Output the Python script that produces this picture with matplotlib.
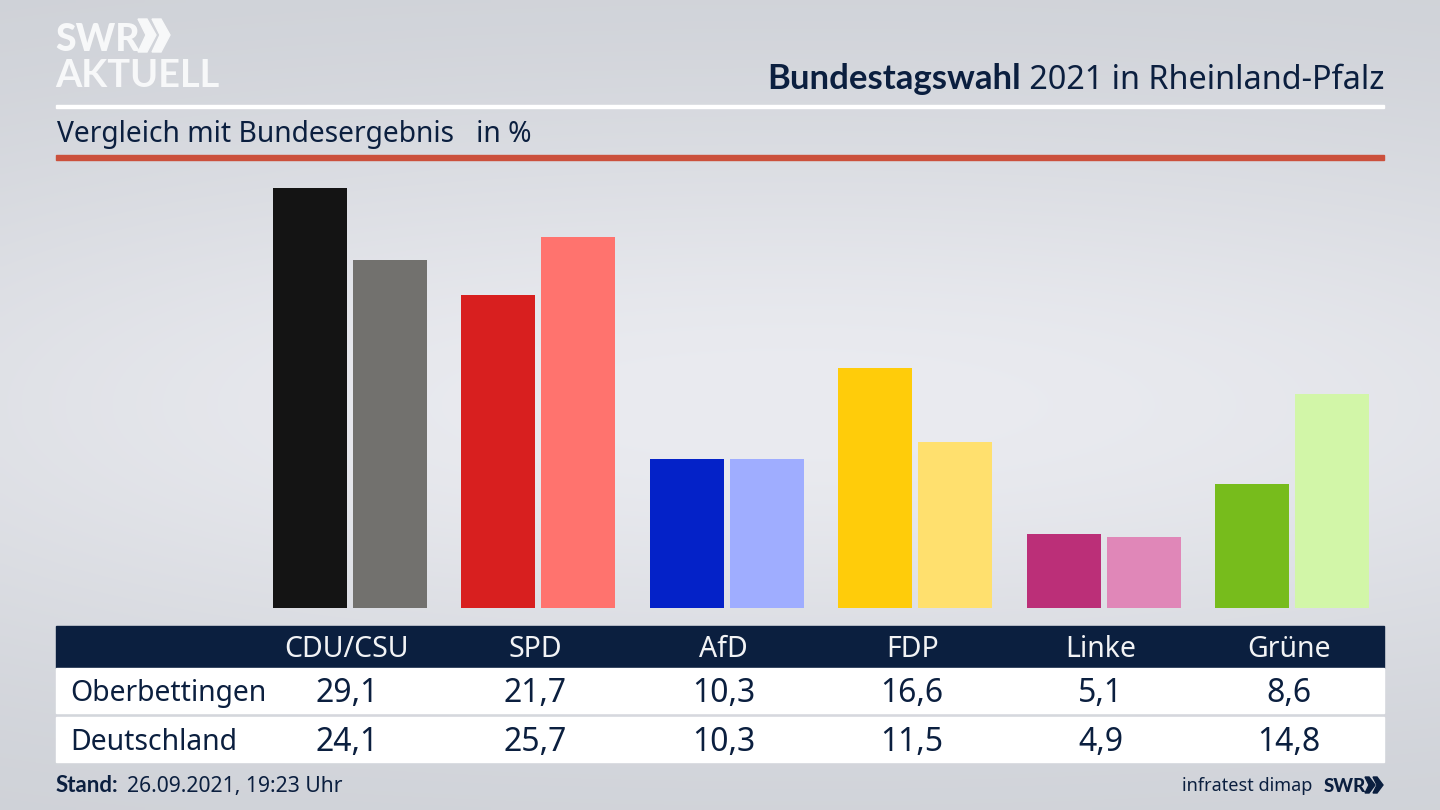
import numpy as np
import matplotlib
matplotlib.use('Agg')
import matplotlib.pyplot as plt
from matplotlib.patches import Rectangle, Polygon

plt.rcParams['font.family'] = ['Noto Sans', 'DejaVu Sans']

parties = ['CDU/CSU', 'SPD', 'AfD', 'FDP', 'Linke', 'Grüne']
oberbettingen = [29.1, 21.7, 10.3, 16.6, 5.1, 8.6]
deutschland = [24.1, 25.7, 10.3, 11.5, 4.9, 14.8]
row_names = ['Oberbettingen', 'Deutschland']
colors_local = ['#141414', '#d81f1f', '#0422c8', '#ffcc0a', '#bb2f78', '#77bc1c']
colors_nation = ['#72716e', '#ff736e', '#9fadff', '#ffe06e', '#e087b8', '#d2f6a8']

NAVY = '#0b1f3f'
LOGO = '#f7f8f9'
BOLD = 'Lato'
W, H = 1440, 810


def fmt(v):
    return f'{v:.1f}'.replace('.', ',')


fig = plt.figure(figsize=(14.4, 8.1), dpi=100)

# canvas in pixel coordinates, for background and text
bg = fig.add_axes([0, 0, 1, 1])
bg.set_xlim(0, W)
bg.set_ylim(H, 0)
bg.axis('off')

yy, xx = np.mgrid[0:1:162j, 0:1:288j]
glow = np.exp(-((yy - 0.5) / 0.36) ** 2) * (1 - 0.35 * ((xx - 0.55) / 0.55) ** 2)
shade = np.clip(glow, 0, 1)
top = np.array([0xcd, 0xd0, 0xd6]) / 255
mid = np.array([0xea, 0xeb, 0xf0]) / 255
img = top + (mid - top) * shade[..., None]
bg.imshow(img, extent=[0, W, H, 0], aspect='auto', interpolation='bilinear', zorder=0)

# logo
bg.text(55, 51, 'SWR', color=LOGO, fontsize=27, fontweight='black', va='baseline', ha='left', family=BOLD)
bg.text(55, 87, 'AKTUELL', color=LOGO, fontsize=27.3, fontweight='bold', va='baseline', ha='left', family=BOLD)
for x0 in (138, 152):
    bg.add_patch(Polygon([(x0, 19), (x0 + 9, 19), (x0 + 18, 35), (x0 + 9, 52), (x0, 52), (x0 + 8, 35)],
                         closed=True, color=LOGO, zorder=3))

# header
title = bg.text(1384, 89, ' 2021 in Rheinland-Pfalz', color=NAVY, fontsize=23.3, ha='right', va='baseline')
fig.canvas.draw()
box = title.get_window_extent()
bg.text(box.x0, 89, 'Bundestagswahl', color=NAVY, fontsize=25, fontweight='bold', ha='right', va='baseline', family=BOLD)
bg.add_patch(Rectangle((56, 104.5), 1328, 3, color='white', zorder=2))
bg.text(57, 142, 'Vergleich mit Bundesergebnis   in %', color=NAVY, fontsize=20.3, ha='left', va='baseline')
bg.add_patch(Rectangle((56, 155), 1328, 5, color='#cb503c', zorder=2))

# bars, y scale goes 188..608 px for 0..29.1
group_px = 188.4
first_px = 347.0
ax = fig.add_axes([0, (H - 608) / H, 1, 420 / H])
ax.patch.set_alpha(0)
ax.set_xlim(-first_px / group_px, (W - first_px) / group_px)
ax.set_ylim(0, 29.1)
ax.axis('off')
x = np.arange(len(parties))
bar_w = 74 / group_px
ax.bar(x - 37 / group_px, oberbettingen, bar_w, color=colors_local)
ax.bar(x + 43 / group_px, deutschland, bar_w, color=colors_nation)

# table
bg.add_patch(Rectangle((56, 626), 1328, 42, color=NAVY, zorder=2))
bg.add_patch(Rectangle((56, 668), 1328, 45, color='white', zorder=2))
bg.add_patch(Rectangle((56, 717), 1328, 45, color='white', zorder=2))
px = first_px + x * group_px
for p, name in zip(px, parties):
    bg.text(p, 657, name, color='#f2f3f5', fontsize=20.5, ha='center', va='baseline', zorder=3)
for y, name, vals in zip((701, 750), row_names, (oberbettingen, deutschland)):
    bg.text(70, y, name, color=NAVY, fontsize=20.4, ha='left', va='baseline', zorder=3)
    for p, v in zip(px, vals):
        bg.text(p, y + 1, fmt(v), color=NAVY, fontsize=23, ha='center', va='baseline', zorder=3)

# footer
stand = bg.text(56, 792, 'Stand:', color=NAVY, fontsize=16, fontweight='bold', ha='left', va='baseline', family=BOLD)
fig.canvas.draw()
sb = stand.get_window_extent()
bg.text(sb.x1 + 8, 792, '26.09.2021, 19:23 Uhr', color=NAVY, fontsize=15.2, ha='left', va='baseline')
bg.text(1312, 791, 'infratest dimap', color=NAVY, fontsize=13, ha='right', va='baseline')
bg.text(1324, 792, 'SWR', color=NAVY, fontsize=13.5, fontweight='black', ha='left', va='baseline', family=BOLD)
for x0 in (1365, 1373):
    bg.add_patch(Polygon([(x0, 777), (x0 + 4, 777), (x0 + 10, 785), (x0 + 4, 793), (x0, 793), (x0 + 4, 785)],
                         closed=True, color=NAVY, zorder=3))

fig.savefig('out.png', dpi=100)
